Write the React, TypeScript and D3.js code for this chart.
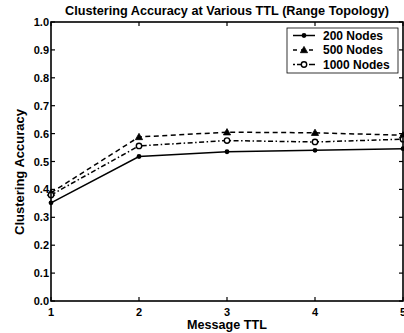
import React from "react";
import * as d3 from "d3";

const ttl = [1, 2, 3, 4, 5];
const nodes200 = [0.352, 0.518, 0.535, 0.54, 0.546];
const nodes500 = [0.388, 0.588, 0.605, 0.603, 0.594];
const nodes1000 = [0.38, 0.556, 0.575, 0.57, 0.58];
const yTicks = [0, 0.1, 0.2, 0.3, 0.4, 0.5, 0.6, 0.7, 0.8, 0.9, 1.0];
const seriesNames = ["200 Nodes", "500 Nodes", "1000 Nodes"];

const W = 404, H = 333;
const m = { left: 51, right: 403, top: 22, bottom: 301 };
const font = "'Liberation Sans', Arial, Helvetica, sans-serif";

export default function App() {
  const x = d3.scaleLinear().domain([1, 5]).range([m.left, m.right]);
  const y = d3.scaleLinear().domain([0, 1]).range([m.bottom, m.top]);
  const line = d3.line<number>().x((_, i) => x(ttl[i])).y((d) => y(d));
  const series = [
    { name: seriesNames[0], data: nodes200, dash: "none", marker: "dot" },
    { name: seriesNames[1], data: nodes500, dash: "5,3.5", marker: "tri" },
    { name: seriesNames[2], data: nodes1000, dash: "5,2.5,1.5,2.5", marker: "circ" },
  ];
  const marker = (type: string, cx: number, cy: number, key: string) => {
    if (type === "dot") return <circle key={key} cx={cx} cy={cy} r={2.4} fill="#000" />;
    if (type === "tri") {
      const s = 3.6;
      return (
        <path key={key} d={`M${cx},${cy - s}L${cx + s},${cy + s * 0.75}L${cx - s},${cy + s * 0.75}Z`} fill="#000" stroke="#000" strokeWidth={0.8} />
      );
    }
    return <circle key={key} cx={cx} cy={cy} r={2.7} fill="#fff" stroke="#000" strokeWidth={1.4} />;
  };
  const tl = 4;
  return (
    <svg width={W} height={H} style={{ position: "absolute", left: 0, top: 0 }}>
      <rect width={W} height={H} fill="#fff" />
      <text x={227} y={15} textAnchor="middle" fontFamily={font} fontWeight="bold" fontSize={12.7}>
        Clustering Accuracy at Various TTL (Range Topology)
      </text>
      {/* data */}
      {series.map((s) => (
        <g key={s.name}>
          <path d={line(s.data) || ""} fill="none" stroke="#000" strokeWidth={1.5} strokeDasharray={s.dash} />
          {s.data.map((v, i) => marker(s.marker, x(ttl[i]), y(v), s.name + i))}
        </g>
      ))}
      {/* axes box */}
      <rect x={m.left} y={m.top} width={m.right - m.left} height={m.bottom - m.top} fill="none" stroke="#000" strokeWidth={1.6} />
      {yTicks.map((t) => (
        <g key={"y" + t}>
          <line x1={m.left} x2={m.left + tl} y1={y(t)} y2={y(t)} stroke="#000" strokeWidth={1.2} />
          <line x1={m.right} x2={m.right - tl} y1={y(t)} y2={y(t)} stroke="#000" strokeWidth={1.2} />
          <text x={m.left - 2} y={y(t) + 4} textAnchor="end" fontFamily={font} fontWeight="bold" fontSize={11}>
            {t.toFixed(1)}
          </text>
        </g>
      ))}
      {ttl.map((t) => (
        <g key={"x" + t}>
          <line x1={x(t)} x2={x(t)} y1={m.bottom} y2={m.bottom - tl} stroke="#000" strokeWidth={1.2} />
          <line x1={x(t)} x2={x(t)} y1={m.top} y2={m.top + tl} stroke="#000" strokeWidth={1.2} />
          <text x={x(t)} y={315.5} textAnchor="middle" fontFamily={font} fontWeight="bold" fontSize={11}>
            {t}
          </text>
        </g>
      ))}
      <text x={227} y={329} textAnchor="middle" fontFamily={font} fontWeight="bold" fontSize={12.6}>
        Message TTL
      </text>
      <text transform={`translate(24,172) rotate(-90)`} textAnchor="middle" fontFamily={font} fontWeight="bold" fontSize={13}>
        Clustering Accuracy
      </text>
      {/* legend */}
      <rect x={287} y={28} width={111} height={45} fill="#fff" stroke="#000" strokeWidth={0.8} />
      {series.map((s, i) => {
        const cy = 35.5 + i * 14.5;
        return (
          <g key={"lg" + s.name}>
            <line x1={293} x2={315} y1={cy} y2={cy} stroke="#000" strokeWidth={1.5} strokeDasharray={s.dash === "none" ? "none" : i === 1 ? "4,4" : "2,2,6,2"} />
            {marker(s.marker, 304, cy, "lgm" + i)}
            <text x={323} y={cy + 4.3} fontFamily={font} fontWeight="bold" fontSize={12}>
              {s.name}
            </text>
          </g>
        );
      })}
    </svg>
  );
}
